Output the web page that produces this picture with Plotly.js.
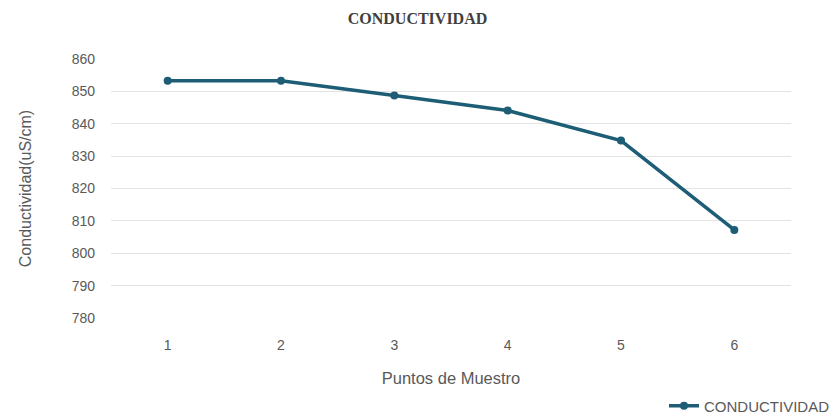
<!DOCTYPE html>
<html>
<head>
<meta charset="utf-8">
<script src="https://cdn.plot.ly/plotly-3.0.1.min.js"></script>
<style>
  html, body { margin: 0; padding: 0; background: #ffffff; }
  #chart { width: 835px; height: 419px; }
</style>
</head>
<body>
<div id="chart"></div>
<script>
// Sampling points and measured conductivity (uS/cm)
const puntos = ['1', '2', '3', '4', '5', '6'];
const conductividad = [853.3, 853.3, 848.7, 844.1, 834.8, 807.2];
const yTicks = [780, 790, 800, 810, 820, 830, 840, 850, 860];

const lineColor = '#1d5d75';
const textColor = '#595959';

const trace = {
  type: 'scatter',
  mode: 'lines+markers',
  name: 'CONDUCTIVIDAD',
  x: puntos,
  y: conductividad,
  line: { color: lineColor, width: 3.5 },
  marker: { color: lineColor, size: 8, symbol: 'circle' }
};

const layout = {
  width: 835,
  height: 419,
  margin: { l: 111, r: 44, t: 59, b: 101 },
  paper_bgcolor: '#ffffff',
  plot_bgcolor: '#ffffff',
  font: { family: 'Liberation Sans, Arial, sans-serif', color: textColor, size: 13 },
  title: {
    text: '<b>CONDUCTIVIDAD</b>',
    font: { family: 'Liberation Serif, Times New Roman, serif', size: 16, color: '#404040' },
    x: 0.5, xanchor: 'center',
    y: 0.955, yanchor: 'middle'
  },
  xaxis: {
    type: 'category',
    range: [-0.5, 5.5],
    automargin: false,
    showgrid: false,
    zeroline: false,
    showline: false,
    ticks: '',
    ticklabelstandoff: 17,
    tickfont: { size: 14, color: textColor },
    title: { text: 'Puntos de Muestro', font: { size: 16.5, color: textColor }, standoff: 20 }
  },
  yaxis: {
    range: [780, 860],
    automargin: false,
    tickvals: yTicks,
    ticktext: yTicks.map(String),
    showgrid: true,
    gridcolor: '#e3e3e3',
    gridwidth: 1,
    zeroline: false,
    showline: false,
    ticks: '',
    ticklabelstandoff: 15,
    tickfont: { size: 14, color: textColor },
    title: { text: 'Conductividad(uS/cm)', font: { size: 16, color: textColor }, standoff: 36 }
  },
  showlegend: true,
  legend: {
    orientation: 'h',
    xref: 'container', yref: 'container',
    x: 1.0, xanchor: 'right',
    y: 0.031, yanchor: 'middle',
    font: { size: 15, color: textColor },
    bgcolor: 'rgba(0,0,0,0)'
  }
};

Plotly.newPlot('chart', [trace], layout, { displayModeBar: false, staticPlot: true });
</script>
</body>
</html>
